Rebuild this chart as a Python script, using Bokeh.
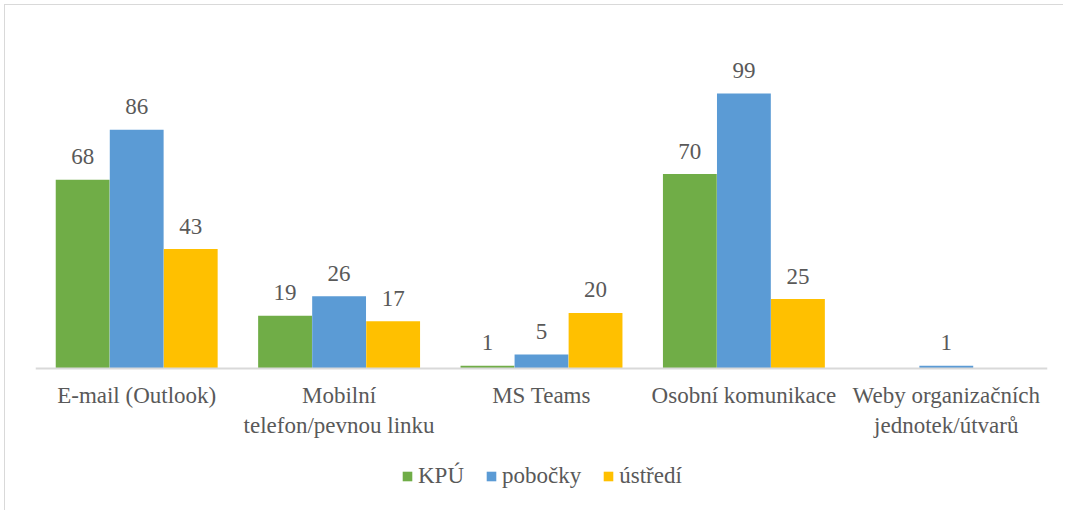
from bokeh.plotting import figure
from bokeh.models import ColumnDataSource, FactorRange, Range1d, Legend, LegendItem, Span
from bokeh.transform import dodge
from bokeh.core.properties import value
from bokeh.embed import file_html
from bokeh.resources import INLINE

categories = ["E-mail (Outlook)", "Mobilní\ntelefon/pevnou linku", "MS Teams",
              "Osobní komunikace", "Weby organizačních\njednotek/útvarů"]
series_names = ["KPÚ", "pobočky", "ústředí"]
kpu = [68, 19, 1, 70, 0]
pobocky = [86, 26, 5, 99, 1]
ustredi = [43, 17, 20, 25, 0]

colors = ["#70AD47", "#5B9BD5", "#FFC000"]
offsets = [-0.267, 0.0, 0.267]
FONT = "Liberation Serif"
TXT = "#595959"
FS = "23px"

p = figure(x_range=FactorRange(*categories, range_padding=0, group_padding=0),
           y_range=Range1d(-51.5, 130.7),
           width=1059, height=506, output_backend="svg", toolbar_location=None,
           min_border_left=30, min_border_right=17, min_border_top=0, min_border_bottom=0,
           styles={"margin-left": "4px", "margin-top": "4px",
                   "border-left": "1px solid #d9d9d9", "border-top": "1px solid #d9d9d9"})

p.xaxis.visible = False
p.yaxis.visible = False
p.xgrid.grid_line_color = None
p.ygrid.grid_line_color = None
p.outline_line_color = None

p.add_layout(Span(location=0, dimension="width", line_color="#d9d9d9", line_width=2))

items = []
for name, vals, col, off in zip(series_names, [kpu, pobocky, ustredi], colors, offsets):
    src = ColumnDataSource(dict(cat=categories, val=vals))
    r = p.vbar(x=dodge("cat", off, range=p.x_range), top="val", width=0.266, source=src,
               fill_color=col, line_color=None)
    items.append(LegendItem(label=name, renderers=[r]))
    lab = [(c, v) for c, v in zip(categories, vals) if v > 0]
    lsrc = ColumnDataSource(dict(cat=[c for c, _ in lab], val=[v for _, v in lab],
                                 txt=[str(v) for _, v in lab]))
    p.text(x=dodge("cat", off, range=p.x_range), y="val", text="txt", source=lsrc,
           text_align="center", text_baseline="alphabetic", y_offset=-23,
           text_font=value(FONT), text_font_size=FS, text_color=TXT)

csrc = ColumnDataSource(dict(cat=categories, y=[0] * len(categories)))
p.text(x="cat", y="y", text="cat", source=csrc, text_align="center", text_baseline="top",
       y_offset=15, text_font=value(FONT), text_font_size=FS, text_color=TXT,
       text_line_height=1.17)

legend = Legend(items=items, orientation="horizontal", location=(366, 22),
                label_text_font=FONT, label_text_font_size=FS, label_text_color=TXT,
                glyph_width=12, glyph_height=12, spacing=21, label_standoff=5,
                border_line_color=None, background_fill_alpha=0, margin=0, padding=0)
p.add_layout(legend, "center")

open("out.html", "w").write(file_html(p, INLINE))
